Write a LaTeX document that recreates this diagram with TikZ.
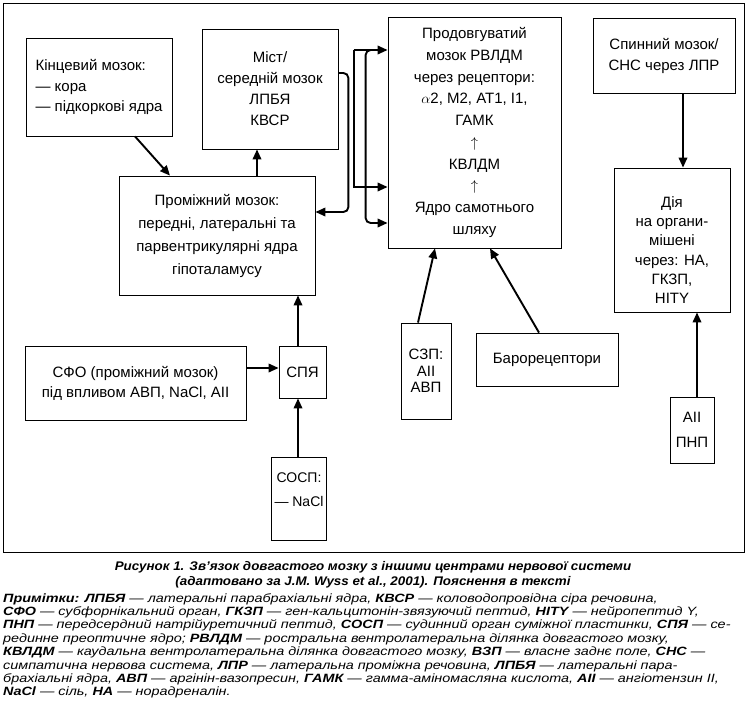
\documentclass[tikz,border=0pt]{standalone}
\usepackage{fontspec}
\setmainfont{Liberation Sans}
\newfontfamily\notefont{Liberation Sans}[FakeStretch=1.2]
\newfontfamily\capfontf{Liberation Sans}[FakeStretch=1.07]
\usetikzlibrary{arrows.meta,calc}
\newcommand\myfs[2]{\fontsize{#1}{#2}\selectfont}
\begin{document}
\begin{tikzpicture}[x=1pt,y=-1pt,
  box/.style={draw, line width=0.8pt, inner sep=0pt, align=center, font=\myfs{15}{21}},
  txt/.style={inner sep=0pt, align=center},
  arr/.style={line width=1.9pt, -{Triangle[length=10pt,width=8.5pt]}}]
\useasboundingbox (0,0) rectangle (747,721);
\node[draw, line width=0.8pt, minimum width=741, minimum height=549, anchor=north west, inner sep=0pt] (frame) at (3,3) {};

% boxes
\node[box, minimum width=146, minimum height=98, align=left, font=\myfs{15}{20.5}] (kin) at (99,87) {Кінцевий мозок:\\— кора\\— підкоркові ядра};
\node[box, minimum width=136, minimum height=120, font=\myfs{15}{21}] (mist) at (270,89) {Міст/\\середній мозок\\ЛПБЯ\\КВСР};
\node[box, minimum width=196, minimum height=119, font=\myfs{15}{23}] (prom) at (217,235.5) {Проміжний мозок:\\передні, латеральні та\\парвентрикулярні ядра\\гіпоталамусу};
\node[box, minimum width=173, minimum height=231, font=\myfs{15}{21.7}] (prod) at (474.5,132.5) {Продовгуватий\\мозок РВЛДМ\\через рецептори:\\$\alpha$2, М2, АТ1, І1,\\ГАМК\\$\uparrow$\\КВЛДМ\\$\uparrow$\\Ядро самотнього\\шляху};
\node[box, minimum width=142, minimum height=75, font=\myfs{15}{21}] (spin) at (664,55.5) {Спинний мозок/\\СНС через ЛПР};
\node[box, minimum width=116, minimum height=144] (diya) at (672,240) {};
\node[txt, font=\myfs{15}{19.2}] (diyat) at (672,250) {Дія\\на органи-\\мішені\\через: НА,\\ГКЗП,\\НІТY};
\node[box, minimum width=44, minimum height=66, font=\myfs{15}{25}] (aii) at (692,430) {AII\\ПНП};
\node[box, minimum width=221, minimum height=74, font=\myfs{15}{20}] (sfo) at (135.5,383) {СФО (проміжний мозок)\\під впливом АВП, NaCl, AII};
\node[box, minimum width=47, minimum height=52] (spya) at (302.5,372) {СПЯ};
\node[box, minimum width=55, minimum height=83] (sosp) at (298.5,498.5) {};
\node[txt, font=\myfs{14}{24}] (sospt) at (299,490) {СОСП:\\— NaCl};
\node[box, minimum width=50, minimum height=96, font=\myfs{15}{16.5}] (szp) at (426,371) {СЗП:\\AII\\АВП};
\node[box, minimum width=142, minimum height=53] (baro) at (547,359.5) {Барорецептори};

% connectors
\draw[arr] ($(kin.south)+(36,0)$) -- ($(prom.north)+(-47,0)$);
\draw[arr] ($(prom.north)+(40,0)$) -- ($(mist.south)+(-13,0)$);
\draw[arr, rounded corners=5pt] ($(mist.east)+(0,-16)$) -- ++(10,0) -- ++(0,139) -- ($(prom.east)+(0,-23.5)$);
\coordinate (bt) at ($(prod.west)+(-34,-82.5)$);
\draw[arr] (bt) -- (bt -| prod.west);
\draw[arr] (bt) |- ($(prod.west)+(0,54.5)$);
\draw[arr, rounded corners=5pt] ($(bt)+(20,0)$) -- ($(bt)+(12,0)$) -- ($(prod.west)+(-22,90.5)$) -- ($(prod.west)+(0,90.5)$);
\draw[arr] ($(szp.north)+(-8,0)$) -- ($(prod.south)+(-39.5,0)$);
\draw[arr] ($(baro.north)+(-8,0)$) -- ($(prod.south)+(15.5,0)$);
\draw[arr] ($(sfo.east)+(0,-15)$) -- ($(spya.west)+(0,-4)$);
\draw[arr] ($(spya.north)+(-4.5,0)$) -- ($(prom.south)+(81,0)$);
\draw[arr] ($(sosp.north)+(-0.5,0)$) -- ($(spya.south)+(-4.5,0)$);
\draw[arr] ($(spin.south)+(19,0)$) -- ($(diya.north)+(11,0)$);
\draw[arr] ($(aii.north)+(5,0)$) -- ($(diya.south)+(25,0)$);

% caption
\node[txt, font=\capfontf\myfs{12.5}{15}\bfseries\itshape] (cap) at (373,574.5) {Рисунок 1. Зв’язок довгастого мозку з іншими центрами нервової системи\\(адаптовано за J.M. Wyss et al., 2001). Пояснення в тексті};
\node[txt, align=left, anchor=north west, font=\notefont\myfs{12}{13.4}\itshape] (notes) at (3,593) {%
\textbf{Примітки: ЛПБЯ} — латеральні парабрахіальні ядра, \textbf{КВСР} — коловодопровідна сіра речовина,\\
\textbf{СФО} — субфорнікальний орган, \textbf{ГКЗП} — ген-кальцитонін-звязуючий пептид, \textbf{НІТY} — нейропептид Y,\\
\textbf{ПНП} — передсердний натрійуретичний пептид, \textbf{СОСП} — судинний орган суміжної пластинки, \textbf{СПЯ} — се-\\
рединне преоптичне ядро; \textbf{РВЛДМ} — ростральна вентролатеральна ділянка довгастого мозку,\\
\textbf{КВЛДМ} — каудальна вентролатеральна ділянка довгастого мозку, \textbf{ВЗП} — власне заднє поле, \textbf{СНС} —\\
симпатична нервова система, \textbf{ЛПР} — латеральна проміжна речовина, \textbf{ЛПБЯ} — латеральні пара-\\
брахіальні ядра, \textbf{АВП} — аргінін-вазопресин, \textbf{ГАМК} — гамма-аміномасляна кислота, \textbf{AII} — ангіотензин ІІ,\\
\textbf{NaCl} — сіль, \textbf{НА} — норадреналін.};
\end{tikzpicture}
\end{document}
